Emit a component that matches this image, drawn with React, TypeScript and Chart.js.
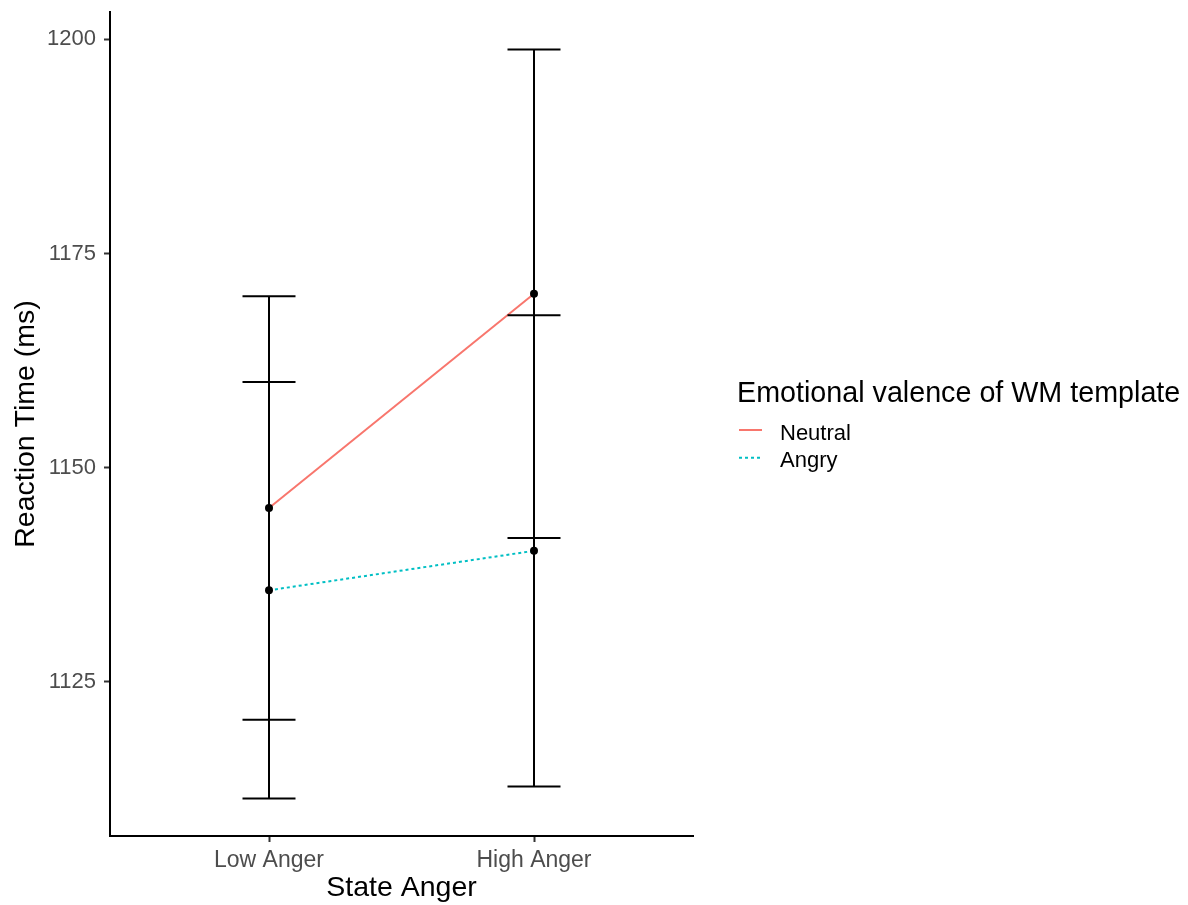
import { useEffect, useRef } from "react";
import { Chart, registerables } from "chart.js";

Chart.register(...registerables);

// Conditions on the x axis and cell means with error-bar half widths
const conditions = ["Low Anger", "High Anger"];
const seriesNames = ["Neutral", "Angry"];
const neutralMeans = [1145.3, 1170.3];
const neutralErrors = [24.7, 28.5];
const angryMeans = [1135.7, 1140.3];
const angryErrors = [24.3, 27.5];
const yTicks = [1125, 1150, 1175, 1200];
const seriesColors = ["#F8766D", "#00BFC4"];
const seriesDashes: number[][] = [[], [3, 3]];
const legendTitle = "Emotional valence of WM template";

const FONT = "'Liberation Sans', Arial, Helvetica, sans-serif";

const allMeans = [neutralMeans, angryMeans];
const allErrors = [neutralErrors, angryErrors];

// y range: data extent of the error bars plus 5% on each side
const lows = allMeans.flatMap((m, s) => m.map((v, i) => v - allErrors[s][i]));
const highs = allMeans.flatMap((m, s) => m.map((v, i) => v + allErrors[s][i]));
const yLo = Math.min(...lows);
const yHi = Math.max(...highs);
const yPad = (yHi - yLo) * 0.05;

const errorBarPlugin = {
  id: "errorBars",
  afterDatasetsDraw(chart: any) {
    const { ctx } = chart;
    const xs = chart.scales.x;
    const ys = chart.scales.y;
    ctx.save();
    ctx.strokeStyle = "#000000";
    ctx.lineWidth = 2;
    ctx.lineCap = "butt";
    allMeans.forEach((means, s) => {
      means.forEach((m, i) => {
        const e = allErrors[s][i];
        const cx = xs.getPixelForValue(i + 1);
        const x0 = xs.getPixelForValue(i + 1 - 0.1);
        const x1 = xs.getPixelForValue(i + 1 + 0.1);
        const yt = ys.getPixelForValue(m + e);
        const yb = ys.getPixelForValue(m - e);
        ctx.beginPath();
        ctx.moveTo(cx, yt);
        ctx.lineTo(cx, yb);
        ctx.moveTo(x0, yt);
        ctx.lineTo(x1, yt);
        ctx.moveTo(x0, yb);
        ctx.lineTo(x1, yb);
        ctx.stroke();
      });
    });
    ctx.restore();
  },
};

const legendPlugin = {
  id: "sideLegend",
  afterDraw(chart: any) {
    const { ctx } = chart;
    ctx.save();
    ctx.fillStyle = "#000000";
    ctx.textBaseline = "alphabetic";
    ctx.textAlign = "left";
    ctx.font = `28.7px ${FONT}`;
    ctx.fillText(legendTitle, 737, 402);
    ctx.font = `22px ${FONT}`;
    seriesNames.forEach((name, i) => {
      const cy = 430 + i * 27.7;
      ctx.strokeStyle = seriesColors[i];
      ctx.lineWidth = 2;
      ctx.setLineDash(seriesDashes[i]);
      ctx.beginPath();
      ctx.moveTo(739, cy);
      ctx.lineTo(762, cy);
      ctx.stroke();
      ctx.setLineDash([]);
      ctx.fillStyle = "#000000";
      ctx.fillText(name, 780, cy + 9.5);
    });
    ctx.restore();
  },
};

export default function App() {
  const canvasRef = useRef<HTMLCanvasElement | null>(null);

  useEffect(() => {
    if (!canvasRef.current) return;
    const chart = new Chart(canvasRef.current, {
      type: "line",
      data: {
        datasets: seriesNames.map((name, s) => ({
          label: name,
          data: allMeans[s].map((v, i) => ({ x: i + 1, y: v })),
          borderColor: seriesColors[s],
          borderWidth: 2,
          borderDash: seriesDashes[s],
          pointRadius: 4,
          pointBackgroundColor: "#000000",
          pointBorderWidth: 0,
          fill: false,
          tension: 0,
        })),
      },
      options: {
        responsive: false,
        maintainAspectRatio: false,
        animation: false,
        devicePixelRatio: 1,
        layout: { padding: { left: 0, top: 12, right: 495, bottom: 0 } },
        plugins: {
          legend: { display: false },
          tooltip: { enabled: false },
        },
        font: { family: FONT },
        scales: {
          x: {
            type: "linear",
            min: 0.4,
            max: 2.6,
            afterBuildTicks: (s: any) => {
              s.ticks = conditions.map((_, i) => ({ value: i + 1 }));
            },
            afterFit: (s: any) => {
              s.height = 69;
              s.paddingLeft = 0;
              s.paddingRight = 0;
            },
            ticks: {
              callback: (v: any) => conditions[Math.round(Number(v)) - 1] ?? "",
              color: "#4D4D4D",
              font: { family: FONT, size: 23 },
              padding: 5,
              maxRotation: 0,
              autoSkip: false,
            },
            grid: {
              display: true,
              drawOnChartArea: false,
              drawTicks: true,
              tickLength: 6,
              tickColor: "#333333",
              tickWidth: 2,
            },
            border: { display: true, color: "#000000", width: 2 },
            title: {
              display: true,
              text: "State Anger",
              color: "#000000",
              font: { family: FONT, size: 28.5 },
              padding: { top: 0, bottom: 0 },
            },
          },
          y: {
            type: "linear",
            min: yLo - yPad,
            max: yHi + yPad,
            afterBuildTicks: (s: any) => {
              s.ticks = yTicks.map((v) => ({ value: v }));
            },
            afterFit: (s: any) => {
              s.width = 110;
              s.paddingTop = 0;
              s.paddingBottom = 0;
            },
            ticks: {
              callback: (v: any) => String(v),
              color: "#4D4D4D",
              font: { family: FONT, size: 22 },
              padding: 8,
            },
            grid: {
              display: true,
              drawOnChartArea: false,
              drawTicks: true,
              tickLength: 6,
              tickColor: "#333333",
              tickWidth: 2,
            },
            border: { display: true, color: "#000000", width: 2 },
            title: {
              display: true,
              text: "Reaction Time (ms)",
              color: "#000000",
              font: { family: FONT, size: 28.5 },
              padding: { top: 9, bottom: 0 },
            },
          },
        },
      },
      plugins: [errorBarPlugin, legendPlugin],
    } as any);
    return () => chart.destroy();
  }, []);

  return (
    <div style={{ position: "absolute", left: 0, top: 0, width: 1188, height: 905, background: "#ffffff" }}>
      <canvas ref={canvasRef} width={1188} height={905} style={{ display: "block" }} />
    </div>
  );
}
